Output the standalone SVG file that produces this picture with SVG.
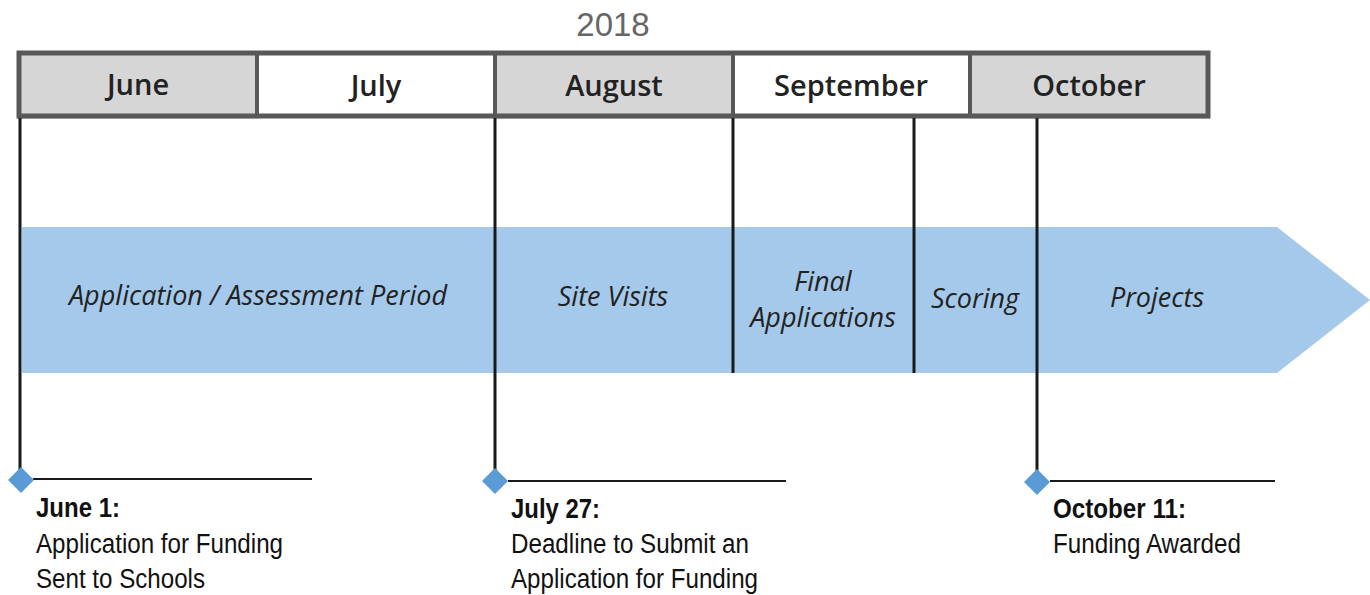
<svg xmlns="http://www.w3.org/2000/svg" width="1370" height="595" viewBox="0 0 1370 595">
<style>
.year{font-family:"Liberation Sans",Arial,sans-serif;font-size:33px;fill:#666;text-anchor:middle}
.month{font-family:"Open Sans","Noto Sans",sans-serif;font-weight:600;font-size:29px;fill:#222;text-anchor:middle}
.phase{font-family:"Open Sans","Noto Sans",sans-serif;font-style:italic;font-size:27px;fill:#222;text-anchor:middle}
.date{font-family:"Liberation Sans",Arial,sans-serif;font-weight:bold;font-size:27px;fill:#111}
.desc{font-family:"Liberation Sans",Arial,sans-serif;font-size:27px;fill:#111}
.cellg{fill:#d6d6d6}
.cellw{fill:#ffffff}
.vline{stroke:#1a1a1a;stroke-width:3;fill:none}
.hline{stroke:#1a1a1a;stroke-width:2;fill:none}
.dia{fill:#5b9bd5}
</style>
<rect width="1370" height="595" fill="#ffffff"/>
<text class="year" x="613" y="36">2018</text>
<g id="header">
<rect class="cellg" x="17" y="51" width="240" height="68"/>
<rect class="cellw" x="257" y="51" width="238" height="68"/>
<rect class="cellg" x="495" y="51" width="238" height="68"/>
<rect class="cellw" x="733" y="51" width="237" height="68"/>
<rect class="cellg" x="970" y="51" width="240" height="68"/>
<rect x="19" y="53" width="1189" height="63" fill="none" stroke="#585858" stroke-width="5"/>
<g stroke="#585858" stroke-width="4">
<line x1="257" y1="53" x2="257" y2="116"/>
<line x1="495" y1="53" x2="495" y2="116"/>
<line x1="733" y1="53" x2="733" y2="116"/>
<line x1="970" y1="53" x2="970" y2="116"/>
</g>
<text class="month" x="138" y="95">June</text>
<text class="month" x="376" y="96">July</text>
<text class="month" x="614" y="96">August</text>
<text class="month" x="851" y="96">September</text>
<text class="month" x="1089" y="96">October</text>
</g>
<g id="arrow">
<polygon points="22,227 1277,227 1370,300 1277,373 22,373" fill="#a5c9ea"/>
<text class="phase" x="258" y="305">Application / Assessment Period</text>
<text class="phase" x="613" y="306">Site Visits</text>
<text class="phase" x="823" y="291">Final</text>
<text class="phase" x="823" y="327">Applications</text>
<text class="phase" x="975" y="308">Scoring</text>
<text class="phase" x="1157" y="307">Projects</text>
</g>
<g id="connectors">
<line class="vline" x1="20" y1="118" x2="20" y2="470"/>
<line class="vline" x1="495" y1="118" x2="495" y2="470"/>
<line class="vline" x1="733" y1="118" x2="733" y2="373"/>
<line class="vline" x1="914" y1="118" x2="914" y2="373"/>
<line class="vline" x1="1037" y1="118" x2="1037" y2="471"/>
<line class="hline" x1="33" y1="479" x2="312" y2="479"/>
<line class="hline" x1="508" y1="481" x2="786" y2="481"/>
<line class="hline" x1="1050" y1="481" x2="1275" y2="481"/>
</g>
<g id="m-june">
<polygon class="dia" points="21,467 34,480 21,493 8,480"/>
<text class="date" x="36" y="517" textLength="84" lengthAdjust="spacingAndGlyphs">June 1:</text>
<text class="desc" x="36" y="553" textLength="247" lengthAdjust="spacingAndGlyphs">Application for Funding</text>
<text class="desc" x="36" y="588" textLength="169" lengthAdjust="spacingAndGlyphs">Sent to Schools</text>
</g>
<g id="m-july">
<polygon class="dia" points="495,468 508,481 495,494 482,481"/>
<text class="date" x="511" y="518" textLength="89" lengthAdjust="spacingAndGlyphs">July 27:</text>
<text class="desc" x="511" y="553" textLength="238" lengthAdjust="spacingAndGlyphs">Deadline to Submit an</text>
<text class="desc" x="511" y="588" textLength="247" lengthAdjust="spacingAndGlyphs">Application for Funding</text>
</g>
<g id="m-october">
<polygon class="dia" points="1037,469 1050,482 1037,495 1024,482"/>
<text class="date" x="1053" y="518" textLength="133" lengthAdjust="spacingAndGlyphs">October 11:</text>
<text class="desc" x="1053" y="553" textLength="188" lengthAdjust="spacingAndGlyphs">Funding Awarded</text>
</g>
</svg>
